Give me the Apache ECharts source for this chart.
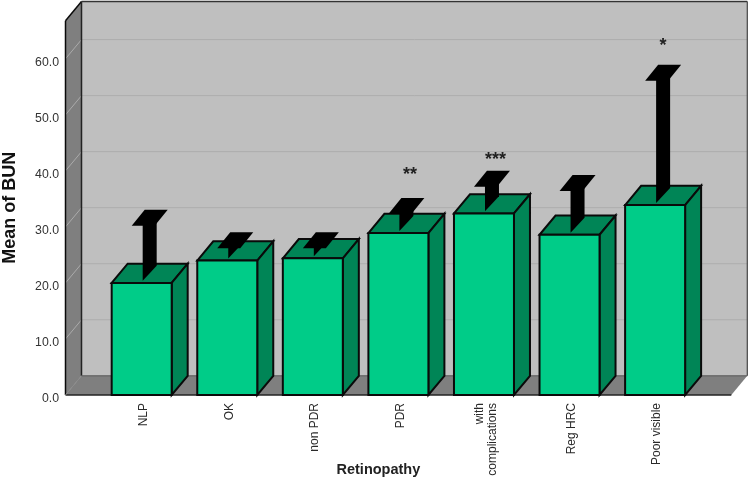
<!DOCTYPE html>
<html><head><meta charset="utf-8">
<style>html,body{margin:0;padding:0;background:#fff}#c{width:749px;height:480px}</style>
<script src="https://cdn.jsdelivr.net/npm/echarts@6/dist/echarts.min.js"></script>
</head><body><div id="c"></div>
<script>
const categories = ['NLP','OK','non PDR','PDR','with\ncomplications','Reg HRC','Poor visible'];
const means = [20.0,24.0,24.4,28.9,32.4,28.6,33.9];
const errorTops = [29.9,25.9,25.9,32.0,36.9,36.1,55.8];
const stars = ['','','','**','***','','*'];
const starLevels = [0,0,0,37.6,40.3,0,60.5];
const yTicks = [0,10,20,30,40,50,60];
const yMax = 66.8;

const FRONT='#00CC88', DARK='#008556', WALL='#BFBFBF', SIDE='#7F7F7F', GRID='#ADADAD', SIDEGRID='#ABABAB', INK='#0A0A0A';
const DX=16, DY=-19.2, MARGIN=33.4, BW=60, SHIFT=2;
const chart = echarts.init(document.getElementById('c'),null,{renderer:'canvas'});
const poly=(points,fill,stroke,lw)=>({type:'polygon',shape:{points},style:{fill,stroke:stroke||null,lineWidth:lw||0,lineJoin:'miter'}});
const line=(x1,y1,x2,y2,stroke,lw)=>({type:'line',shape:{x1,y1,x2,y2},style:{stroke,lineWidth:lw||1}});

function renderWalls(params,api){
  const cs=params.coordSys;
  const L=cs.x-SHIFT-MARGIN, R=cs.x-SHIFT+cs.width+MARGIN;
  const B=api.coord([0,0])[1], T=api.coord([0,yMax])[1];
  const ch=[];
  ch.push(poly([[L+DX,T+DY],[R+DX,T+DY],[R+DX,B+DY],[L+DX,B+DY]],WALL,null,0));
  ch.push(poly([[L,T],[L+DX,T+DY],[L+DX,B+DY],[L,B]],SIDE,null,0));
  ch.push(poly([[L,B],[L+DX,B+DY],[R+DX,B+DY],[R,B]],SIDE,null,0));
  yTicks.forEach(t=>{ if(t===0) return;
    const y=api.coord([0,t])[1];
    ch.push(line(L,y,L+DX,y+DY,SIDEGRID,1));
    ch.push(line(L+DX,y+DY,R+DX,y+DY,GRID,1));
  });
  ch.push(line(L,B,R,B,'#222',1.5));
  ch.push(line(L,B,L,T,INK,1.5));
  ch.push(line(L,T,L+DX,T+DY,INK,1.5));
  ch.push(line(L+DX,T+DY,L+DX,B+DY,'#222',1.5));
  ch.push(line(L+DX,T+DY,R+DX,T+DY,'#333',1.5));
  ch.push(line(R+DX,T+DY,R+DX,B+DY,'#444',1.2));
  ch.push(line(L,B,L+DX,B+DY,'#8a8a8a',1));
  ch.push(line(L+DX,B+DY,R+DX,B+DY,'#555',1));
  return {type:'group',children:ch};
}
function renderBar(params,api){
  const p=api.coord([api.value(0),api.value(1)]), b=api.coord([api.value(0),0]);
  const cx=p[0]-SHIFT, x0=cx-BW/2, x1=cx+BW/2, yt=p[1], yb=b[1];
  const lw=2;
  return {type:'group',children:[
    poly([[x0,yt],[x0+DX,yt+DY],[x1+DX,yt+DY],[x1,yt]],DARK,INK,lw),
    poly([[x1,yt],[x1+DX,yt+DY],[x1+DX,yb+DY],[x1,yb]],DARK,INK,lw),
    poly([[x0,yt],[x1,yt],[x1,yb],[x0,yb]],FRONT,INK,lw)
  ]};
}
function renderErr(params,api){
  const m=api.coord([api.value(0),api.value(1)]), e=api.coord([api.value(0),api.value(2)]);
  const cx=m[0]-SHIFT+DX/2, ym=m[1]+DY/2, yc=e[1]+DY/2, c='#000';
  return {type:'group',children:[
    poly([[cx-7,yc],[cx+7,yc],[cx+7,ym-7.5],[cx-7,ym+7.5]],c),
    poly([[cx-18,yc+8],[cx-5,yc-8],[cx+18,yc-8],[cx+5,yc+8]],c)
  ]};
}
function renderStar(params,api){
  const p=api.coord([api.value(0),api.value(1)]);
  const s=stars[api.value(0)];
  return {type:'text',x:p[0]-SHIFT+(s.length>1?11.5:8),y:p[1]+DY/2,style:{text:s,font:'bold 18px "Liberation Sans"',fill:'#222',align:'center',verticalAlign:'middle'}};
}
chart.setOption({
  animation:false,
  backgroundColor:'#fff',
  grid:{left:98.9+SHIFT,width:599,top:20.7,bottom:85,containLabel:false,outerBoundsMode:'none'},
  xAxis:{type:'category',data:categories,boundaryGap:true,
    axisLine:{show:false},axisTick:{show:false},
    axisLabel:{interval:0,rotate:90,margin:8,fontFamily:'Liberation Sans',fontSize:12,color:'#2a2a2a',lineHeight:13},
    name:'Retinopathy',nameLocation:'middle',nameGap:67,nameMoveOverlap:false,
    nameTextStyle:{fontFamily:'Liberation Sans',fontWeight:'bold',fontSize:14.5,color:'#222',padding:[0,44,0,0]}},
  yAxis:{type:'value',min:0,max:yMax,interval:10,offset:MARGIN+SHIFT,
    axisLine:{show:false},axisTick:{show:false},splitLine:{show:false},
    axisLabel:{margin:6.5,showMaxLabel:false,fontFamily:'Liberation Sans',fontSize:12.3,color:'#333',verticalAlign:'top',lineHeight:7,formatter:v=>v.toFixed(1)},
    name:'Mean of BUN',nameLocation:'middle',nameGap:46,nameMoveOverlap:false,
    nameTextStyle:{fontFamily:'Liberation Sans',fontWeight:'bold',fontSize:18,color:'#111'}},
  series:[
    {type:'custom',name:'walls',data:[[0,0]],encode:{x:0,y:1},renderItem:renderWalls,silent:true,z:1},
    {type:'custom',name:'bars',data:means.map((v,i)=>[i,v]),encode:{x:0,y:1},renderItem:renderBar,z:2},
    {type:'custom',name:'errors',data:means.map((v,i)=>[i,v,errorTops[i]]),encode:{x:0,y:[1,2]},renderItem:renderErr,z:3},
    {type:'custom',name:'stars',data:starLevels.map((v,i)=>[i,v]).filter(d=>d[1]>0),encode:{x:0,y:1},renderItem:renderStar,z:4}
  ]
});
</script></body></html>
